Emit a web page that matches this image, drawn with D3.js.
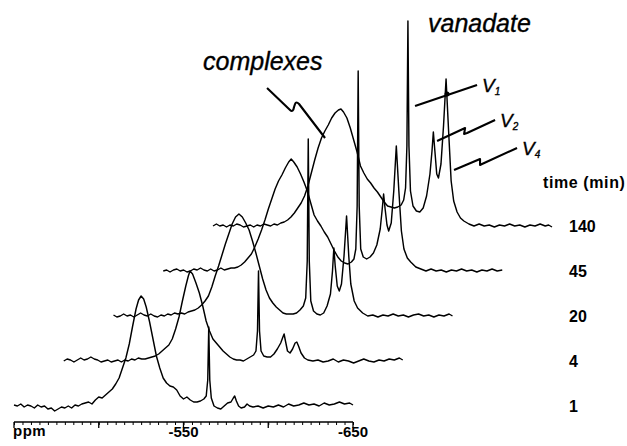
<!DOCTYPE html>
<html>
<head>
<meta charset="utf-8">
<script src="https://cdn.jsdelivr.net/npm/d3@7/dist/d3.min.js"></script>
<style>
  body { margin: 0; background: #fff; }
  svg { display: block; font-family: "Liberation Sans", Arial, Helvetica, sans-serif; }
  .trace { fill: none; stroke: #000; stroke-width: 1.45; stroke-linejoin: round; }
  .leader { fill: none; stroke: #000; stroke-width: 2.1; stroke-linejoin: round; }
  .note { stroke: #000; stroke-width: 0.35; }
</style>
</head>
<body>
<svg width="627" height="446"></svg>
<script>
// time points (min), bottom to top
var times = ["1", "4", "20", "45", "140"];

// 51V spectra as [ppm, intensity (a.u.)]
var spec1 = [[-450,1],[-452,0],[-454,2],[-456,-1],[-458,1],[-460,0],[-462,-2],[-464,1],[-466,-1],[-468,0],[-470,-3],[-472,-2],[-474,-5],[-476,-3],[-478,-1],[-480,-2],[-482,0],[-484,-2],[-486,1],[-488,0],[-490,2],[-492,3],[-494,4],[-496,2],[-498,6],[-500,9],[-502,8],[-504,11],[-506,14],[-508,17],[-510,22],[-512,28],[-514,38],[-516,48],[-518,62],[-520,80],[-522,97],[-523.5,106],[-525,110],[-526.5,107],[-528,99],[-530,84],[-532,67],[-534,50],[-536,38],[-538,28],[-540,23],[-542,20],[-544,19],[-546,16],[-548,10],[-550,7],[-552,9],[-554,6],[-556,4],[-558,4],[-560,5],[-562,7],[-563.4,10],[-564.3,26],[-564.9,79],[-565.5,26],[-566.4,8],[-568,0],[-570,-2],[-572,-3],[-574,0],[-576,3],[-578,4],[-579.4,8],[-580.2,10],[-581.2,5],[-582.5,0],[-584,-2],[-586,-1],[-587.5,2],[-589,0],[-591,-1],[-594,0],[-597,-2],[-600,0],[-603,-1],[-606,1],[-609,-1],[-612,2],[-615,0],[-618,1],[-621,3],[-624,1],[-627,2],[-630,0],[-633,3],[-636,1],[-639,2],[-642,4],[-645,2],[-648,3],[-650,1]];

var spec4 = [[-450,0],[-452,2],[-454,1],[-456,-1],[-458,1],[-460,3],[-462,1],[-464,2],[-466,4],[-468,2],[-470,1],[-472,-1],[-474,0],[-476,1],[-478,-1],[-480,0],[-482,1],[-484,-1],[-486,1],[-488,0],[-490,2],[-492,1],[-494,3],[-496,2],[-498,2],[-500,3],[-502,4],[-504,5],[-506,7],[-508,10],[-510,13],[-512,16],[-514,22],[-516,32],[-518,44],[-520,60],[-522,75],[-523.5,85],[-524.5,90],[-526,87],[-528,78],[-530,68],[-532,55],[-534,40],[-536,30],[-538,22],[-540,18],[-542,14],[-544,10],[-546,7],[-548,4],[-550,2],[-552,1],[-554,1],[-556,0],[-558,2],[-560,4],[-562,6],[-563.4,10],[-564.3,30],[-564.9,90],[-565.5,30],[-566.4,10],[-568,5],[-570,4],[-572,4],[-574,7],[-576,12],[-578,18],[-579.3,24],[-580,27],[-580.8,20],[-582,10],[-583.5,8],[-585,12],[-586.5,18],[-587.5,19],[-588.5,15],[-590,8],[-592,3],[-594,1],[-597,0],[-600,1],[-603,-1],[-606,0],[-609,2],[-612,-1],[-615,1],[-618,0],[-621,-2],[-624,0],[-627,2],[-630,0],[-633,-1],[-636,1],[-639,0],[-642,2],[-645,1],[-648,3],[-650,1]];

var spec20 = [[-450,1],[-452,-1],[-454,0],[-456,2],[-458,0],[-460,1],[-462,-1],[-464,1],[-466,3],[-468,1],[-470,0],[-472,2],[-474,0],[-476,-1],[-478,1],[-480,0],[-482,2],[-484,1],[-486,3],[-488,2],[-490,3],[-492,2],[-494,4],[-496,5],[-498,6],[-500,8],[-502,11],[-504,15],[-506,20],[-508,29],[-510,40],[-512,50],[-514,61],[-516,72],[-518,82],[-520,92],[-522,99],[-524,102],[-526,99],[-528,93],[-530,86],[-532,75],[-534,63],[-536,50],[-538,37],[-540,26],[-542,18],[-544,13],[-546,9],[-548,6],[-550,3],[-552,2],[-554,2],[-556,2],[-558,3],[-560,6],[-562,10],[-563.4,18],[-564.3,55],[-564.9,177],[-565.5,55],[-566.4,15],[-568,5],[-570,2],[-572,1],[-574,3],[-576,10],[-578,22],[-579.2,45],[-580,68],[-580.8,50],[-582,30],[-583.2,25],[-584.5,32],[-586,60],[-587.5,100],[-588.8,60],[-590,32],[-592,15],[-594,8],[-597,3],[-600,0],[-603,1],[-606,-1],[-609,1],[-612,0],[-615,2],[-618,0],[-621,1],[-624,-1],[-627,1],[-630,2],[-633,0],[-636,1],[-639,-1],[-642,1],[-645,0],[-648,2],[-650,0]];

var spec45 = [[-450,0],[-452,1],[-454,-1],[-456,1],[-458,2],[-460,0],[-462,1],[-464,-1],[-466,0],[-468,2],[-470,1],[-472,3],[-474,1],[-476,0],[-478,2],[-480,0],[-482,1],[-484,3],[-486,1],[-488,2],[-490,3],[-492,3],[-494,4],[-496,6],[-498,9],[-500,13],[-502,17],[-504,24],[-506,32],[-508,41],[-510,51],[-512,62],[-514,72],[-516,82],[-518,90],[-520,96],[-522,103],[-524,109],[-525.5,112],[-527,109],[-529,104],[-531,97],[-533,89],[-535,80],[-537,68],[-539,56],[-541,50],[-543,45],[-545,39],[-547,34],[-549,27],[-551,20],[-553,14],[-555,10],[-557,8],[-559,7],[-561,9],[-562.5,12],[-563.6,22],[-564.4,65],[-565,200],[-565.6,65],[-566.5,22],[-568,14],[-570,12],[-572,14],[-574,18],[-576,26],[-578,42],[-579.2,62],[-580,77],[-580.9,62],[-582,46],[-583,40],[-584.5,48],[-586,80],[-587.5,125],[-589,80],[-590.5,40],[-592,22],[-594,13],[-596,9],[-599,4],[-602,2],[-605,0],[-608,2],[-611,0],[-614,1],[-617,-1],[-620,1],[-623,0],[-626,2],[-629,0],[-632,1],[-635,-1],[-638,1],[-641,0],[-644,2],[-647,0],[-650,1]];

var spec140 = [[-450,0],[-452,2],[-454,0],[-456,1],[-458,-1],[-460,1],[-462,0],[-464,2],[-466,1],[-468,-1],[-470,0],[-472,1],[-474,-1],[-476,1],[-478,0],[-480,2],[-482,1],[-484,0],[-486,2],[-488,1],[-490,3],[-492,4],[-494,6],[-496,9],[-498,13],[-500,18],[-502,23],[-504,30],[-506,40],[-508,53],[-510,66],[-512,78],[-514,88],[-516,95],[-518,101],[-520,108],[-522,113],[-524,116],[-525.5,117],[-527,114],[-529,108],[-531,98],[-533,86],[-535,74],[-537,60],[-539,53],[-541,47],[-543,43],[-545,38],[-547,34],[-549,29],[-551,24],[-553,20],[-555,19],[-557,18],[-559,19],[-561,21],[-562.5,26],[-563.6,38],[-564.4,80],[-565,205],[-565.6,80],[-566.5,35],[-568,20],[-570,15],[-572,14],[-574,18],[-576,30],[-578,52],[-579.2,75],[-580,94],[-580.9,75],[-582,52],[-583,48],[-584.5,62],[-586,100],[-587.5,147],[-589,95],[-590.5,45],[-592,25],[-594,14],[-596,8],[-598,5],[-601,2],[-604,0],[-607,2],[-610,0],[-613,1],[-616,-1],[-619,1],[-622,0],[-625,2],[-628,0],[-631,1],[-634,-1],[-637,1],[-640,0],[-643,2],[-646,0],[-648,1],[-650,-1]];

var spectra = [spec1, spec4, spec20, spec45, spec140];

// axis
var ppmDomain = [-450, -650];
var ppmMajor = [-450, -500, -550, -600, -650];
var ppmLabels = [-550, -650];

// annotation targets on the 140 min spectrum [ppm, intensity]
var vLabels = [
  { name: "1", at: [-569.2, 120] },
  { name: "2", at: [-582.2, 85] },
  { name: "4", at: [-592.2, 56] }
];
var complexesAt = [-516.1, 88];

var svg = d3.select("svg");

var x = d3.scaleLinear().domain(ppmDomain).range([14, 353]);
var h = d3.scaleLinear().domain([0, 200]).range([0, 200]);
// pseudo-3D stacking: each later spectrum shifted right and up
var shiftX = d3.scalePoint().domain(times).range([0, 199]);
var baseY = d3.scalePoint().domain(times).range([406, 226]);

function pt(t, d) {
    return [x(d[0]) + shiftX(t), baseY(t) - h(d[1])];
}

var line = d3.line();

svg.append("g").selectAll("path")
    .data(spectra)
    .enter().append("path")
    .attr("class", "trace")
    .attr("d", function(s, i) {
        return line(s.map(function(d) { return pt(times[i], d); }));
    });

// time labels at each baseline
svg.append("g").selectAll("text")
    .data(times)
    .enter().append("text")
    .attr("x", 569)
    .attr("y", function(t) { return baseY(t) + 6; })
    .attr("font-size", 16)
    .attr("font-weight", "bold")
    .text(function(t) { return t; });

svg.append("text")
    .attr("x", 543).attr("y", 188)
    .attr("font-size", 16).attr("font-weight", "bold")
    .attr("letter-spacing", 0.6)
    .text("time (min)");

// ppm axis
var axisG = svg.append("g").attr("transform", "translate(0,422)");
axisG.call(d3.axisBottom(x)
    .tickValues(d3.range(-450, -651, -5))
    .tickSize(3)
    .tickFormat(""));
axisG.call(function(g) {
    g.select(".domain").attr("d", "M" + x(-450) + ",0H" + x(-650)).attr("stroke-width", 1.7);
});
axisG.selectAll(".tick line").attr("stroke-width", 1);
axisG.selectAll(".major")
    .data(ppmMajor)
    .enter().append("line")
    .attr("class", "major")
    .attr("x1", function(d) { return x(d); })
    .attr("x2", function(d) { return x(d); })
    .attr("y1", 0).attr("y2", 6)
    .attr("stroke", "#000").attr("stroke-width", 1.3);

svg.append("g").selectAll("text")
    .data(ppmLabels)
    .enter().append("text")
    .attr("x", function(d) { return x(d); })
    .attr("y", 437)
    .attr("text-anchor", "middle")
    .attr("font-size", 15).attr("font-weight", "bold")
    .text(function(d) { return "" + d; });

svg.append("text")
    .attr("x", 13).attr("y", 436)
    .attr("font-size", 15).attr("font-weight", "bold")
    .attr("letter-spacing", 0.5)
    .text("ppm");

// annotations
svg.append("text")
    .attr("class", "note")
    .attr("x", 428).attr("y", 32)
    .attr("font-size", 25).attr("font-style", "italic")
    .text("vanadate");

svg.append("text")
    .attr("class", "note")
    .attr("x", 203).attr("y", 70)
    .attr("font-size", 25).attr("font-style", "italic")
    .text("complexes");

var c = pt("140", complexesAt);
svg.append("path")
    .attr("class", "leader")
    .attr("d", "M" + (c[0] - 58) + "," + (c[1] - 50) +
        "L" + (c[0] - 35) + "," + (c[1] - 28) +
        "Q" + (c[0] - 32) + "," + (c[1] - 25) + " " + (c[0] - 31) + "," + (c[1] - 31) +
        "L" + (c[0] - 30) + "," + (c[1] - 34) +
        "Q" + (c[0] - 29) + "," + (c[1] - 37) + " " + (c[0] - 26) + "," + (c[1] - 34) +
        "L" + c[0] + "," + c[1]);

// zigzag leaders for V1, V2, V4
var zig = [
    [[0, 0], [62, -21]],
    [[0, 0], [28, -13], [27, -7], [30, -8], [58, -21]],
    [[0, 0], [26, -11], [26, -5], [28, -6], [63, -22]]
];
vLabels.forEach(function(v, i) {
    var a = pt("140", v.at);
    svg.append("path")
        .attr("class", "leader")
        .attr("d", line(zig[i].map(function(p) { return [a[0] + p[0], a[1] + p[1]]; })));
    var last = zig[i][zig[i].length - 1];
    var t = svg.append("text")
        .attr("class", "note")
        .attr("x", a[0] + last[0] + 5)
        .attr("y", a[1] + last[1] + 7)
        .attr("font-size", 19).attr("font-style", "italic");
    t.append("tspan").text("V");
    t.append("tspan").attr("font-size", 10).attr("dy", 3).text(v.name);
});
var d1 = pt("140", vLabels[0].at);
svg.append("circle")
    .attr("cx", d1[0] + 32).attr("cy", d1[1] - 12).attr("r", 2.5)
    .attr("fill", "#000");
</script>
</body>
</html>
